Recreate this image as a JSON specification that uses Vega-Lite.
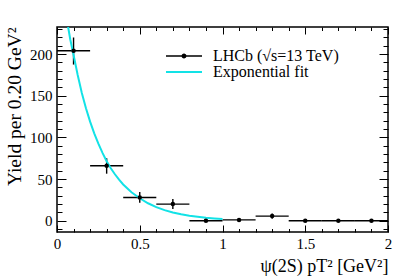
{
  "$schema": "https://vega.github.io/schema/vega-lite/v6.json",
  "width": 331,
  "height": 205,
  "autosize": {"type": "none"},
  "padding": {"left": 57, "top": 27, "right": 21, "bottom": 45},
  "background": "white",
  "config": {
    "view": {"stroke": "black", "strokeWidth": 1.5},
    "font": "Liberation Serif",
    "axis": {
      "labelFont": "Liberation Serif",
      "labelFontSize": 15,
      "labelColor": "black",
      "titleFont": "Liberation Serif",
      "titleFontSize": 18,
      "titleFontWeight": "normal",
      "titleColor": "black",
      "domain": false,
      "grid": false,
      "tickColor": "black",
      "tickWidth": 1,
      "labelFlush": false,
      "labelOverlap": false
    },
    "legend": {
      "labelFont": "Liberation Serif",
      "labelFontSize": 16,
      "labelColor": "black"
    }
  },
  "datasets": {
    "pts": [
      {"x": 0.1, "xlo": 0.0, "xhi": 0.2, "y": 204, "ylo": 187.5, "yhi": 220},
      {"x": 0.3, "xlo": 0.2, "xhi": 0.4, "y": 66, "ylo": 56.5, "yhi": 75},
      {"x": 0.5, "xlo": 0.4, "xhi": 0.6, "y": 28, "ylo": 21.5, "yhi": 34.5},
      {"x": 0.7, "xlo": 0.6, "xhi": 0.8, "y": 20, "ylo": 14, "yhi": 26},
      {"x": 0.9, "xlo": 0.8, "xhi": 1.0, "y": 0, "ylo": 0, "yhi": 0},
      {"x": 1.1, "xlo": 1.0, "xhi": 1.2, "y": 1, "ylo": 0, "yhi": 2},
      {"x": 1.3, "xlo": 1.2, "xhi": 1.4, "y": 5.6, "ylo": 2.5, "yhi": 8.7},
      {"x": 1.5, "xlo": 1.4, "xhi": 1.6, "y": 0, "ylo": 0, "yhi": 0},
      {"x": 1.7, "xlo": 1.6, "xhi": 1.8, "y": 0, "ylo": 0, "yhi": 0},
      {"x": 1.9, "xlo": 1.8, "xhi": 2.0, "y": 0, "ylo": 0, "yhi": 0}
    ],
    "fit": [
      {"x": 0.06, "y": 240.8},
      {"x": 0.08, "y": 217.9},
      {"x": 0.10, "y": 199.0},
      {"x": 0.125, "y": 175.0},
      {"x": 0.15, "y": 153.5},
      {"x": 0.175, "y": 135.0},
      {"x": 0.20, "y": 119.0},
      {"x": 0.225, "y": 105.0},
      {"x": 0.25, "y": 92.5},
      {"x": 0.275, "y": 81.5},
      {"x": 0.30, "y": 71.5},
      {"x": 0.325, "y": 63.0},
      {"x": 0.35, "y": 55.8},
      {"x": 0.375, "y": 49.3},
      {"x": 0.40, "y": 43.6},
      {"x": 0.45, "y": 34.2},
      {"x": 0.50, "y": 27.0},
      {"x": 0.55, "y": 21.0},
      {"x": 0.60, "y": 16.4},
      {"x": 0.65, "y": 12.8},
      {"x": 0.70, "y": 10.0},
      {"x": 0.75, "y": 7.8},
      {"x": 0.80, "y": 6.0},
      {"x": 0.85, "y": 4.7},
      {"x": 0.90, "y": 3.6},
      {"x": 0.95, "y": 2.8},
      {"x": 1.00, "y": 2.2}
    ]
  },
  "resolve": {"axis": {"x": "independent", "y": "independent"}},
  "layer": [
    {
      "data": {"name": "pts"},
      "mark": {"type": "rule", "color": "black", "strokeWidth": 1.4},
      "encoding": {
        "x": {
          "field": "xlo", "type": "quantitative",
          "scale": {"domain": [0, 2], "nice": false, "zero": false},
          "axis": {
            "orient": "bottom",
            "title": "ψ(2S) pT² [GeV²]",
            "titleFont": "Liberation Serif",
            "titleFontSize": 18,
            "titleFontWeight": "normal",
            "titleAnchor": "end",
            "titlePadding": 3,
            "labelFont": "Liberation Serif",
            "labelFontSize": 15,
            "values": [0, 0.1, 0.2, 0.3, 0.4, 0.5, 0.6, 0.7, 0.8, 0.9, 1, 1.1, 1.2, 1.3, 1.4, 1.5, 1.6, 1.7, 1.8, 1.9, 2],
            "labelExpr": "round(datum.value*10) % 5 === 0 ? format(datum.value, '~g') : ''",
            "tickSize": {"condition": {"test": "round(datum.value*10) % 5 === 0", "value": -7}, "value": -3.5},
            "labelPadding": 11
          }
        },
        "x2": {"field": "xhi"},
        "y": {
          "field": "y", "type": "quantitative",
          "scale": {"domain": [-13.5, 232.6], "nice": false, "zero": false},
          "axis": {
            "orient": "left",
            "title": "Yield per 0.20 GeV²",
            "titleFont": "Liberation Serif",
            "titleFontSize": 19.5,
            "titleFontWeight": "normal",
            "titleAnchor": "end",
            "titlePadding": 5,
            "labelFont": "Liberation Serif",
            "labelFontSize": 15,
            "values": [-10, 0, 10, 20, 30, 40, 50, 60, 70, 80, 90, 100, 110, 120, 130, 140, 150, 160, 170, 180, 190, 200, 210, 220, 230],
            "labelExpr": "datum.value % 50 === 0 ? format(datum.value, 'd') : ''",
            "tickSize": {"condition": {"test": "datum.value % 50 === 0", "value": -9}, "value": -5},
            "labelPadding": 14
          }
        }
      }
    },
    {
      "data": {"name": "pts"},
      "mark": {"type": "rule", "color": "black", "strokeWidth": 1.4},
      "encoding": {
        "x": {
          "field": "x", "type": "quantitative",
          "axis": {
            "orient": "top",
            "title": null,
            "labels": false,
            "values": [0, 0.1, 0.2, 0.3, 0.4, 0.5, 0.6, 0.7, 0.8, 0.9, 1, 1.1, 1.2, 1.3, 1.4, 1.5, 1.6, 1.7, 1.8, 1.9, 2],
            "tickSize": {"condition": {"test": "round(datum.value*10) % 5 === 0", "value": -7}, "value": -3.5}
          }
        },
        "y": {
          "field": "ylo", "type": "quantitative",
          "axis": {
            "orient": "right",
            "title": null,
            "labels": false,
            "values": [-10, 0, 10, 20, 30, 40, 50, 60, 70, 80, 90, 100, 110, 120, 130, 140, 150, 160, 170, 180, 190, 200, 210, 220, 230],
            "tickSize": {"condition": {"test": "datum.value % 50 === 0", "value": -9}, "value": -5}
          }
        },
        "y2": {"field": "yhi"}
      }
    },
    {
      "data": {"name": "fit"},
      "mark": {"type": "line", "strokeWidth": 2, "clip": true},
      "encoding": {
        "x": {"field": "x", "type": "quantitative", "axis": null},
        "y": {"field": "y", "type": "quantitative", "axis": null},
        "color": {
          "datum": "Exponential fit",
          "type": "nominal",
          "scale": {"domain": ["LHCb (√s=13 TeV)", "Exponential fit"], "range": ["black", "#12e2e6"]},
          "legend": {
            "title": null,
            "orient": "none",
            "legendX": 119,
            "legendY": 21,
            "padding": 0,
            "rowPadding": 0,
            "symbolSize": 100,
            "labelOffset": 21,
            "labelFont": "Liberation Serif",
            "labelFontSize": 16,
            "symbolFillColor": "black",
            "symbolStrokeWidth": 1.5,
            "encode": {
              "symbols": {
                "update": {
                  "shape": {"signal": "datum.value === 'Exponential fit' ? 'M-3.6,0L3.6,0' : 'M-3.6,0L3.6,0M0.35,0A0.35,0.35,0,1,1,-0.35,0A0.35,0.35,0,1,1,0.35,0Z'"},
                  "fill": {"value": "black"},
                  "strokeWidth": {"signal": "datum.value === 'Exponential fit' ? 2 : 1.4"}
                }
              }
            }
          }
        }
      }
    },
    {
      "data": {"name": "pts"},
      "mark": {"type": "point", "filled": true, "size": 20, "opacity": 1},
      "encoding": {
        "x": {"field": "x", "type": "quantitative", "axis": null},
        "y": {"field": "y", "type": "quantitative", "axis": null},
        "color": {"datum": "LHCb (√s=13 TeV)", "type": "nominal"}
      }
    }
  ]
}
